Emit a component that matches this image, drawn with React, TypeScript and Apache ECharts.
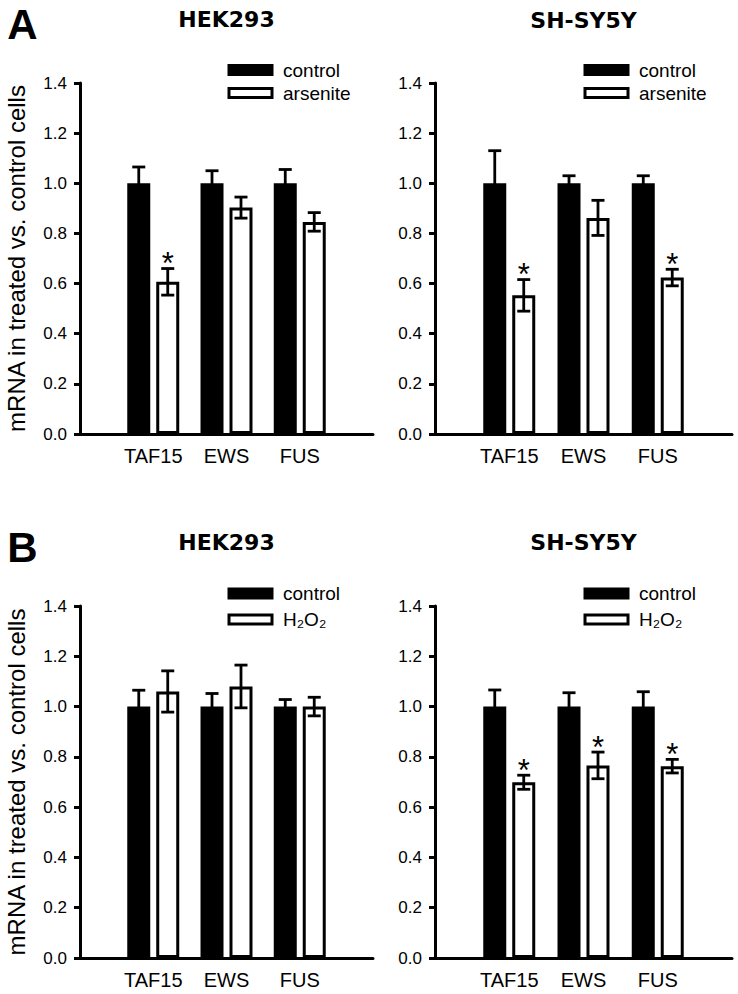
import React, { useEffect, useRef } from 'react';
import * as echarts from 'echarts';

// ---------- data ----------
const categories = ['TAF15', 'EWS', 'FUS'];
const yTickMin = 0;
const yTickMax = 1.4;
const yTickStep = 0.2;

// Panel A, HEK293, arsenite
const hekArsControl = [1.0, 1.0, 1.0];
const hekArsControlErr = [0.065, 0.05, 0.055];
const hekArsTreated = [0.607, 0.903, 0.846];
const hekArsTreatedErr = [0.053, 0.042, 0.037];
const hekArsSig = [true, false, false];

// Panel A, SH-SY5Y, arsenite
const shArsControl = [1.0, 1.0, 1.0];
const shArsControlErr = [0.13, 0.03, 0.03];
const shArsTreated = [0.553, 0.862, 0.624];
const shArsTreatedErr = [0.063, 0.07, 0.033];
const shArsSig = [true, false, true];

// Panel B, HEK293, H2O2
const hekH2o2Control = [1.0, 1.0, 1.0];
const hekH2o2ControlErr = [0.065, 0.052, 0.028];
const hekH2o2Treated = [1.06, 1.08, 1.0];
const hekH2o2TreatedErr = [0.082, 0.085, 0.037];
const hekH2o2Sig = [false, false, false];

// Panel B, SH-SY5Y, H2O2
const shH2o2Control = [1.0, 1.0, 1.0];
const shH2o2ControlErr = [0.066, 0.055, 0.059];
const shH2o2Treated = [0.699, 0.766, 0.763];
const shH2o2TreatedErr = [0.028, 0.053, 0.027];
const shH2o2Sig = [true, true, true];

const controlName = 'control';
const arseniteName = 'arsenite';
const h2o2Name = 'H\u2082O\u2082';
const yTitle = 'mRNA in treated vs. control cells';

// ---------- style ----------
const FONT = '"Liberation Sans", Arial, Helvetica, sans-serif';
const BAR_W = 23;
const BAR_GAP = 0.26;
const HALF_OFFSET = (BAR_W * (1 + BAR_GAP)) / 2;
const CAP = 6.5;

const panels = [
  {
    grid: { left: 80, top: 83, width: 293, height: 351 },
    title: 'HEK293', titleY: 19.5, treatedName: arseniteName,
    control: hekArsControl, controlErr: hekArsControlErr,
    treated: hekArsTreated, treatedErr: hekArsTreatedErr, sig: hekArsSig,
    showYName: true, legend: { left: 227.5, top: 60.5, gap: 4 },
  },
  {
    grid: { left: 435, top: 83, width: 297, height: 351 },
    title: 'SH-SY5Y', titleY: 20, treatedName: arseniteName,
    control: shArsControl, controlErr: shArsControlErr,
    treated: shArsTreated, treatedErr: shArsTreatedErr, sig: shArsSig,
    showYName: false, legend: { left: 583.5, top: 60.5, gap: 4 },
  },
  {
    grid: { left: 80, top: 606, width: 293, height: 352 },
    title: 'HEK293', titleY: 542.5, treatedName: h2o2Name,
    control: hekH2o2Control, controlErr: hekH2o2ControlErr,
    treated: hekH2o2Treated, treatedErr: hekH2o2TreatedErr, sig: hekH2o2Sig,
    showYName: true, legend: { left: 227.5, top: 584, gap: 7 },
  },
  {
    grid: { left: 435, top: 606, width: 297, height: 352 },
    title: 'SH-SY5Y', titleY: 542.5, treatedName: h2o2Name,
    control: shH2o2Control, controlErr: shH2o2ControlErr,
    treated: shH2o2Treated, treatedErr: shH2o2TreatedErr, sig: shH2o2Sig,
    showYName: false, legend: { left: 583.5, top: 584, gap: 7 },
  },
];

function buildOption() {
  const grids: any[] = [];
  const xAxes: any[] = [];
  const yAxes: any[] = [];
  const series: any[] = [];
  const legends: any[] = [];
  const graphics: any[] = [];

  const axisData = ['', ...categories, ''];

  panels.forEach((p, i) => {
    grids.push({ ...p.grid, containLabel: false });
    xAxes.push({
      type: 'category',
      gridIndex: i,
      data: axisData,
      boundaryGap: false,
      axisLine: { show: true, lineStyle: { color: '#000', width: 3 } },
      axisTick: { show: false },
      axisLabel: { color: '#000', fontSize: 20, fontFamily: FONT, margin: 12, interval: 0 },
      splitLine: { show: false },
    });
    yAxes.push({
      type: 'value',
      gridIndex: i,
      min: yTickMin,
      max: yTickMax,
      interval: yTickStep,
      name: p.showYName ? yTitle : '',
      nameLocation: 'middle',
      nameGap: 52,
      nameTextStyle: { color: '#000', fontSize: 24, fontFamily: FONT },
      axisLine: { show: true, lineStyle: { color: '#000', width: 3 } },
      axisTick: { show: true, length: 6, lineStyle: { color: '#000', width: 3 } },
      axisLabel: {
        color: '#000', fontSize: 17, fontFamily: FONT, margin: 13,
        formatter: (v: number) => v.toFixed(1),
      },
      splitLine: { show: false },
    });

    series.push({
      type: 'bar',
      name: controlName,
      xAxisIndex: i,
      yAxisIndex: i,
      data: ['-', ...p.control, '-'],
      barWidth: BAR_W,
      barGap: `${BAR_GAP * 100}%`,
      itemStyle: { color: '#000', borderColor: '#000', borderWidth: 3 },
      emphasis: { disabled: true },
    });
    series.push({
      type: 'bar',
      name: p.treatedName,
      xAxisIndex: i,
      yAxisIndex: i,
      data: ['-', ...p.treated, '-'],
      barWidth: BAR_W,
      barGap: `${BAR_GAP * 100}%`,
      itemStyle: { color: '#fff', borderColor: '#000', borderWidth: 3 },
      emphasis: { disabled: true },
    });

    const errData: any[] = [];
    categories.forEach((_, j) => {
      errData.push([j + 1, p.control[j], p.controlErr[j], -1, 0]);
      errData.push([j + 1, p.treated[j], p.treatedErr[j], 1, p.sig[j] ? 1 : 0]);
    });
    series.push({
      type: 'custom',
      name: 'err' + i,
      xAxisIndex: i,
      yAxisIndex: i,
      z: 5,
      encode: { x: 0, y: 1 },
      data: errData,
      renderItem: (params: any, api: any) => {
        const x = api.value(0);
        const m = api.value(1);
        const e = api.value(2);
        const side = api.value(3);
        const sig = api.value(4);
        const top = api.coord([x, m + e]);
        const bot = api.coord([x, m - e]);
        const cx = top[0] + side * HALF_OFFSET;
        const st = { stroke: '#000', lineWidth: 2.8 };
        const children: any[] = [
          { type: 'line', shape: { x1: cx, y1: top[1], x2: cx, y2: bot[1] }, style: st },
          { type: 'line', shape: { x1: cx - CAP, y1: top[1], x2: cx + CAP, y2: top[1] }, style: st },
          { type: 'line', shape: { x1: cx - CAP, y1: bot[1], x2: cx + CAP, y2: bot[1] }, style: st },
        ];
        if (sig) {
          children.push({
            type: 'text',
            style: {
              text: '*', x: cx, y: top[1] - 5,
              fill: '#000', font: `31px ${FONT}`,
              textAlign: 'center', textVerticalAlign: 'middle',
              align: 'center', verticalAlign: 'middle',
            },
          });
        }
        return { type: 'group', children };
      },
    });

    legends.push({
      orient: 'vertical',
      left: p.legend.left,
      top: p.legend.top,
      padding: 0,
      itemGap: p.legend.gap,
      itemWidth: 43,
      itemHeight: 9,
      icon: 'rect',
      selectedMode: false,
      textStyle: { color: '#000', fontSize: 19, fontFamily: FONT, padding: [0, 0, 0, 6] },
      data: [
        { name: controlName, icon: 'rect', itemStyle: { color: '#000', borderColor: '#000', borderWidth: 3 } },
        { name: p.treatedName, icon: 'rect', itemStyle: { color: '#fff', borderColor: '#000', borderWidth: 3 } },
      ],
    });

    const cx = p.grid.left + p.grid.width / 2;
    graphics.push({
      type: 'text',
      style: {
        text: p.title, x: cx, y: p.titleY,
        fill: '#000', font: `bold 22px "DejaVu Sans", sans-serif`,
        textAlign: 'center', textVerticalAlign: 'middle',
        align: 'center', verticalAlign: 'middle',
      },
    });
  });

  graphics.push({
    type: 'text',
    style: {
      text: 'A', x: 22.5, y: 24, fill: '#000', font: `bold 42px ${FONT}`,
      textAlign: 'center', textVerticalAlign: 'middle', align: 'center', verticalAlign: 'middle',
    },
  });
  graphics.push({
    type: 'text',
    style: {
      text: 'B', x: 22.5, y: 547, fill: '#000', font: `bold 42px ${FONT}`,
      textAlign: 'center', textVerticalAlign: 'middle', align: 'center', verticalAlign: 'middle',
    },
  });

  return {
    animation: false,
    backgroundColor: '#fff',
    grid: grids,
    xAxis: xAxes,
    yAxis: yAxes,
    legend: legends,
    series,
    graphic: graphics,
  };
}

export default function App() {
  const ref = useRef<HTMLDivElement>(null);
  useEffect(() => {
    document.body.style.margin = '0';
    if (!ref.current) return;
    const chart = echarts.init(ref.current, undefined, { renderer: 'svg' });
    chart.setOption(buildOption() as any);
    return () => chart.dispose();
  }, []);
  return <div ref={ref} style={{ width: 738, height: 994 }} />;
}
